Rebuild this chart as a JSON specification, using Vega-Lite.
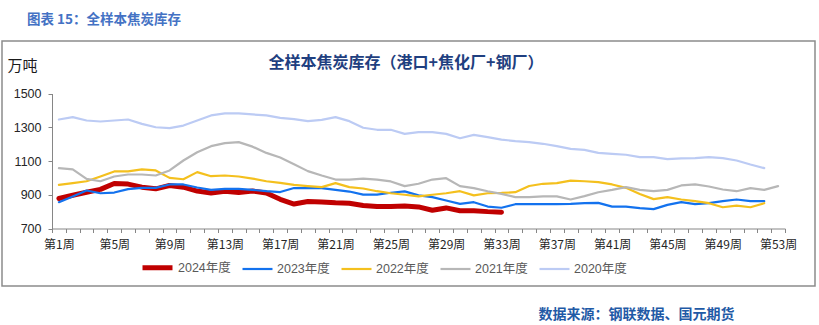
{
  "$schema": "https://vega.github.io/schema/vega-lite/v6.json",
  "width": 813,
  "height": 245,
  "autosize": {"type": "none"},
  "padding": {"left": 2, "top": 41, "right": 4, "bottom": 39},
  "background": "white",
  "config": {
    "view": {"stroke": "#8C8C8C", "strokeWidth": 1.5},
    "font": "Liberation Sans, Noto Sans CJK SC"
  },
  "title": {
    "text": "图表 15：全样本焦炭库存",
    "anchor": "start",
    "frame": "group",
    "dx": 25,
    "offset": 4,
    "baseline": "alphabetic",
    "fontSize": 13.5,
    "fontWeight": "bold",
    "color": "#4472C4",
    "font": "Noto Sans CJK SC"
  },
  "datasets": {
    "d": [
      {"w":1,"s":"2024年度","v":878},{"w":2,"s":"2024年度","v":897},{"w":3,"s":"2024年度","v":915},{"w":4,"s":"2024年度","v":932},{"w":5,"s":"2024年度","v":967},{"w":6,"s":"2024年度","v":963},{"w":7,"s":"2024年度","v":945},{"w":8,"s":"2024年度","v":935},{"w":9,"s":"2024年度","v":955},{"w":10,"s":"2024年度","v":945},{"w":11,"s":"2024年度","v":922},{"w":12,"s":"2024年度","v":910},{"w":13,"s":"2024年度","v":920},{"w":14,"s":"2024年度","v":913},{"w":15,"s":"2024年度","v":922},{"w":16,"s":"2024年度","v":910},{"w":17,"s":"2024年度","v":873},{"w":18,"s":"2024年度","v":845},{"w":19,"s":"2024年度","v":860},{"w":20,"s":"2024年度","v":857},{"w":21,"s":"2024年度","v":852},{"w":22,"s":"2024年度","v":850},{"w":23,"s":"2024年度","v":836},{"w":24,"s":"2024年度","v":830},{"w":25,"s":"2024年度","v":830},{"w":26,"s":"2024年度","v":833},{"w":27,"s":"2024年度","v":828},{"w":28,"s":"2024年度","v":808},{"w":29,"s":"2024年度","v":822},{"w":30,"s":"2024年度","v":805},{"w":31,"s":"2024年度","v":805},{"w":32,"s":"2024年度","v":800},{"w":33,"s":"2024年度","v":797},
      {"w":1,"s":"2023年度","v":856},{"w":2,"s":"2023年度","v":890},{"w":3,"s":"2023年度","v":925},{"w":4,"s":"2023年度","v":909},{"w":5,"s":"2023年度","v":913},{"w":6,"s":"2023年度","v":933},{"w":7,"s":"2023年度","v":941},{"w":8,"s":"2023年度","v":941},{"w":9,"s":"2023年度","v":961},{"w":10,"s":"2023年度","v":961},{"w":11,"s":"2023年度","v":943},{"w":12,"s":"2023年度","v":929},{"w":13,"s":"2023年度","v":935},{"w":14,"s":"2023年度","v":935},{"w":15,"s":"2023年度","v":929},{"w":16,"s":"2023年度","v":921},{"w":17,"s":"2023年度","v":916},{"w":18,"s":"2023年度","v":940},{"w":19,"s":"2023年度","v":939},{"w":20,"s":"2023年度","v":939},{"w":21,"s":"2023年度","v":929},{"w":22,"s":"2023年度","v":919},{"w":23,"s":"2023年度","v":901},{"w":24,"s":"2023年度","v":901},{"w":25,"s":"2023年度","v":912},{"w":26,"s":"2023年度","v":920},{"w":27,"s":"2023年度","v":896},{"w":28,"s":"2023年度","v":886},{"w":29,"s":"2023年度","v":866},{"w":30,"s":"2023年度","v":846},{"w":31,"s":"2023年度","v":856},{"w":32,"s":"2023年度","v":830},{"w":33,"s":"2023年度","v":823},{"w":34,"s":"2023年度","v":844},{"w":35,"s":"2023年度","v":844},{"w":36,"s":"2023年度","v":844},{"w":37,"s":"2023年度","v":844},{"w":38,"s":"2023年度","v":846},{"w":39,"s":"2023年度","v":850},{"w":40,"s":"2023年度","v":852},{"w":41,"s":"2023年度","v":830},{"w":42,"s":"2023年度","v":830},{"w":43,"s":"2023年度","v":821},{"w":44,"s":"2023年度","v":815},{"w":45,"s":"2023年度","v":840},{"w":46,"s":"2023年度","v":856},{"w":47,"s":"2023年度","v":844},{"w":48,"s":"2023年度","v":850},{"w":49,"s":"2023年度","v":862},{"w":50,"s":"2023年度","v":872},{"w":51,"s":"2023年度","v":862},{"w":52,"s":"2023年度","v":862},
      {"w":1,"s":"2022年度","v":959},{"w":2,"s":"2022年度","v":969},{"w":3,"s":"2022年度","v":980},{"w":4,"s":"2022年度","v":1008},{"w":5,"s":"2022年度","v":1038},{"w":6,"s":"2022年度","v":1038},{"w":7,"s":"2022年度","v":1050},{"w":8,"s":"2022年度","v":1044},{"w":9,"s":"2022年度","v":1000},{"w":10,"s":"2022年度","v":992},{"w":11,"s":"2022年度","v":1034},{"w":12,"s":"2022年度","v":1010},{"w":13,"s":"2022年度","v":1014},{"w":14,"s":"2022年度","v":1008},{"w":15,"s":"2022年度","v":996},{"w":16,"s":"2022年度","v":980},{"w":17,"s":"2022年度","v":970},{"w":18,"s":"2022年度","v":958},{"w":19,"s":"2022年度","v":951},{"w":20,"s":"2022年度","v":945},{"w":21,"s":"2022年度","v":969},{"w":22,"s":"2022年度","v":945},{"w":23,"s":"2022年度","v":937},{"w":24,"s":"2022年度","v":921},{"w":25,"s":"2022年度","v":909},{"w":26,"s":"2022年度","v":900},{"w":27,"s":"2022年度","v":890},{"w":28,"s":"2022年度","v":900},{"w":29,"s":"2022年度","v":909},{"w":30,"s":"2022年度","v":921},{"w":31,"s":"2022年度","v":896},{"w":32,"s":"2022年度","v":909},{"w":33,"s":"2022年度","v":911},{"w":34,"s":"2022年度","v":915},{"w":35,"s":"2022年度","v":952},{"w":36,"s":"2022年度","v":965},{"w":37,"s":"2022年度","v":969},{"w":38,"s":"2022年度","v":984},{"w":39,"s":"2022年度","v":980},{"w":40,"s":"2022年度","v":975},{"w":41,"s":"2022年度","v":961},{"w":42,"s":"2022年度","v":941},{"w":43,"s":"2022年度","v":905},{"w":44,"s":"2022年度","v":874},{"w":45,"s":"2022年度","v":886},{"w":46,"s":"2022年度","v":872},{"w":47,"s":"2022年度","v":862},{"w":48,"s":"2022年度","v":850},{"w":49,"s":"2022年度","v":826},{"w":50,"s":"2022年度","v":836},{"w":51,"s":"2022年度","v":826},{"w":52,"s":"2022年度","v":850},
      {"w":1,"s":"2021年度","v":1058},{"w":2,"s":"2021年度","v":1050},{"w":3,"s":"2021年度","v":994},{"w":4,"s":"2021年度","v":980},{"w":5,"s":"2021年度","v":1008},{"w":6,"s":"2021年度","v":1020},{"w":7,"s":"2021年度","v":1020},{"w":8,"s":"2021年度","v":1014},{"w":9,"s":"2021年度","v":1044},{"w":10,"s":"2021年度","v":1103},{"w":11,"s":"2021年度","v":1152},{"w":12,"s":"2021年度","v":1188},{"w":13,"s":"2021年度","v":1206},{"w":14,"s":"2021年度","v":1212},{"w":15,"s":"2021年度","v":1185},{"w":16,"s":"2021年度","v":1148},{"w":17,"s":"2021年度","v":1121},{"w":18,"s":"2021年度","v":1081},{"w":19,"s":"2021年度","v":1040},{"w":20,"s":"2021年度","v":1014},{"w":21,"s":"2021年度","v":990},{"w":22,"s":"2021年度","v":990},{"w":23,"s":"2021年度","v":996},{"w":24,"s":"2021年度","v":990},{"w":25,"s":"2021年度","v":979},{"w":26,"s":"2021年度","v":951},{"w":27,"s":"2021年度","v":965},{"w":28,"s":"2021年度","v":990},{"w":29,"s":"2021年度","v":998},{"w":30,"s":"2021年度","v":951},{"w":31,"s":"2021年度","v":939},{"w":32,"s":"2021年度","v":921},{"w":33,"s":"2021年度","v":905},{"w":34,"s":"2021年度","v":886},{"w":35,"s":"2021年度","v":886},{"w":36,"s":"2021年度","v":890},{"w":37,"s":"2021年度","v":890},{"w":38,"s":"2021年度","v":872},{"w":39,"s":"2021年度","v":892},{"w":40,"s":"2021年度","v":915},{"w":41,"s":"2021年度","v":929},{"w":42,"s":"2021年度","v":945},{"w":43,"s":"2021年度","v":929},{"w":44,"s":"2021年度","v":921},{"w":45,"s":"2021年度","v":929},{"w":46,"s":"2021年度","v":955},{"w":47,"s":"2021年度","v":961},{"w":48,"s":"2021年度","v":949},{"w":49,"s":"2021年度","v":931},{"w":50,"s":"2021年度","v":921},{"w":51,"s":"2021年度","v":939},{"w":52,"s":"2021年度","v":929},{"w":53,"s":"2021年度","v":951},
      {"w":1,"s":"2020年度","v":1346},{"w":2,"s":"2020年度","v":1360},{"w":3,"s":"2020年度","v":1340},{"w":4,"s":"2020年度","v":1334},{"w":5,"s":"2020年度","v":1340},{"w":6,"s":"2020年度","v":1346},{"w":7,"s":"2020年度","v":1320},{"w":8,"s":"2020年度","v":1300},{"w":9,"s":"2020年度","v":1295},{"w":10,"s":"2020年度","v":1310},{"w":11,"s":"2020年度","v":1340},{"w":12,"s":"2020年度","v":1370},{"w":13,"s":"2020年度","v":1382},{"w":14,"s":"2020年度","v":1382},{"w":15,"s":"2020年度","v":1376},{"w":16,"s":"2020年度","v":1370},{"w":17,"s":"2020年度","v":1356},{"w":18,"s":"2020年度","v":1348},{"w":19,"s":"2020年度","v":1336},{"w":20,"s":"2020年度","v":1344},{"w":21,"s":"2020年度","v":1360},{"w":22,"s":"2020年度","v":1336},{"w":23,"s":"2020年度","v":1297},{"w":24,"s":"2020年度","v":1285},{"w":25,"s":"2020年度","v":1285},{"w":26,"s":"2020年度","v":1261},{"w":27,"s":"2020年度","v":1271},{"w":28,"s":"2020年度","v":1271},{"w":29,"s":"2020年度","v":1261},{"w":30,"s":"2020年度","v":1235},{"w":31,"s":"2020年度","v":1255},{"w":32,"s":"2020年度","v":1241},{"w":33,"s":"2020年度","v":1227},{"w":34,"s":"2020年度","v":1218},{"w":35,"s":"2020年度","v":1212},{"w":36,"s":"2020年度","v":1202},{"w":37,"s":"2020年度","v":1188},{"w":38,"s":"2020年度","v":1172},{"w":39,"s":"2020年度","v":1166},{"w":40,"s":"2020年度","v":1148},{"w":41,"s":"2020年度","v":1142},{"w":42,"s":"2020年度","v":1137},{"w":43,"s":"2020年度","v":1123},{"w":44,"s":"2020年度","v":1123},{"w":45,"s":"2020年度","v":1111},{"w":46,"s":"2020年度","v":1115},{"w":47,"s":"2020年度","v":1117},{"w":48,"s":"2020年度","v":1123},{"w":49,"s":"2020年度","v":1117},{"w":50,"s":"2020年度","v":1103},{"w":51,"s":"2020年度","v":1079},{"w":52,"s":"2020年度","v":1058}
    ]
  },
  "data": {"name": "d"},
  "resolve": {"axis": {"x": "independent"}},
  "layer": [
    {
      "mark": {"type": "line", "clip": false, "strokeCap": "round", "strokeJoin": "round"},
      "encoding": {
        "x": {
          "field": "w",
          "type": "ordinal",
          "bandPosition": 0.5,
          "scale": {"type": "band", "range": [50, 783], "paddingInner": 0, "paddingOuter": 0},
          "axis": {
            "orient": "bottom",
            "offset": -57.5,
            "tickBand": "extent",
            "tickSize": 4,
            "tickColor": "#868686",
            "domainColor": "#868686",
            "labelPadding": 7,
            "labelAngle": 0,
            "labelOverlap": false,
            "labelBound": false,
            "labelFlush": false,
            "labelExpr": "(datum.value - 1) % 4 == 0 ? '第' + datum.value + '周' : ''",
            "labelFont": "Noto Sans CJK SC",
            "labelFontSize": 12,
            "labelColor": "#262626",
            "grid": false,
            "title": "数据来源：钢联数据、国元期货",
            "titleX": 536,
            "titleY": 85.5,
            "titleAlign": "left",
            "titleBaseline": "middle",
            "titleAnchor": null,
            "titleFont": "Noto Sans CJK SC",
            "titleFontSize": 14,
            "titleFontWeight": "bold",
            "titleColor": "#1F5AA6"
          }
        },
        "y": {
          "field": "v",
          "type": "quantitative",
          "scale": {"domain": [700, 1500], "range": [187.5, 52.5], "nice": false, "zero": false},
          "axis": {
            "orient": "left",
            "offset": -50,
            "values": [700, 900, 1100, 1300, 1500],
            "format": "d",
            "tickSize": 4,
            "tickColor": "#868686",
            "domainColor": "#868686",
            "labelPadding": 7,
            "labelFont": "Liberation Sans",
            "labelFontSize": 12.5,
            "labelColor": "#262626",
            "grid": false,
            "title": "万吨",
            "titleAngle": 0,
            "titleX": -45,
            "titleY": 24,
            "titleAlign": "left",
            "titleBaseline": "middle",
            "titleFont": "Noto Sans CJK SC",
            "titleFontSize": 15,
            "titleFontWeight": "normal",
            "titleColor": "#1a1a1a"
          }
        },
        "color": {
          "field": "s",
          "type": "nominal",
          "scale": {
            "domain": ["2024年度", "2023年度", "2022年度", "2021年度", "2020年度"],
            "range": ["#C00000", "#1372EE", "#F4C01E", "#B7B7B7", "#BCCBF4"]
          },
          "legend": {
            "orient": "none",
            "legendX": 138,
            "legendY": 209,
            "direction": "horizontal",
            "title": null,
            "padding": 0,
            "symbolType": "stroke",
            "symbolSize": 900,
            "labelOffset": 3,
            "columnPadding": 7,
            "labelFont": "Liberation Sans, Noto Sans CJK SC",
            "labelFontSize": 12.5,
            "labelColor": "#595959"
          }
        },
        "strokeWidth": {
          "field": "s",
          "type": "nominal",
          "scale": {
            "type": "ordinal",
            "domain": ["2024年度", "2023年度", "2022年度", "2021年度", "2020年度"],
            "range": [5, 2.2, 2.2, 2.2, 2.2]
          },
          "legend": {
            "orient": "none",
            "legendX": 138,
            "legendY": 209,
            "direction": "horizontal",
            "title": null,
            "padding": 0,
            "symbolType": "stroke",
            "symbolSize": 900,
            "labelOffset": 3,
            "columnPadding": 7,
            "labelFont": "Liberation Sans, Noto Sans CJK SC",
            "labelFontSize": 12.5,
            "labelColor": "#595959"
          }
        }
      }
    },
    {
      "mark": {"type": "point", "opacity": 0},
      "encoding": {
        "x": {
          "field": "w",
          "type": "ordinal",
          "scale": {"type": "band", "range": [50, 783], "paddingInner": 0, "paddingOuter": 0},
          "axis": {
            "orient": "top",
            "labels": false,
            "ticks": false,
            "domain": false,
            "grid": false,
            "title": "全样本焦炭库存（港口+焦化厂+钢厂）",
            "titleX": 403.5,
            "titleY": 21,
            "titleAlign": "center",
            "titleBaseline": "middle",
            "titleAnchor": null,
            "titleFont": "Noto Sans CJK SC",
            "titleFontSize": 16,
            "titleFontWeight": "bold",
            "titleColor": "#1F3F80"
          }
        }
      }
    }
  ]
}
